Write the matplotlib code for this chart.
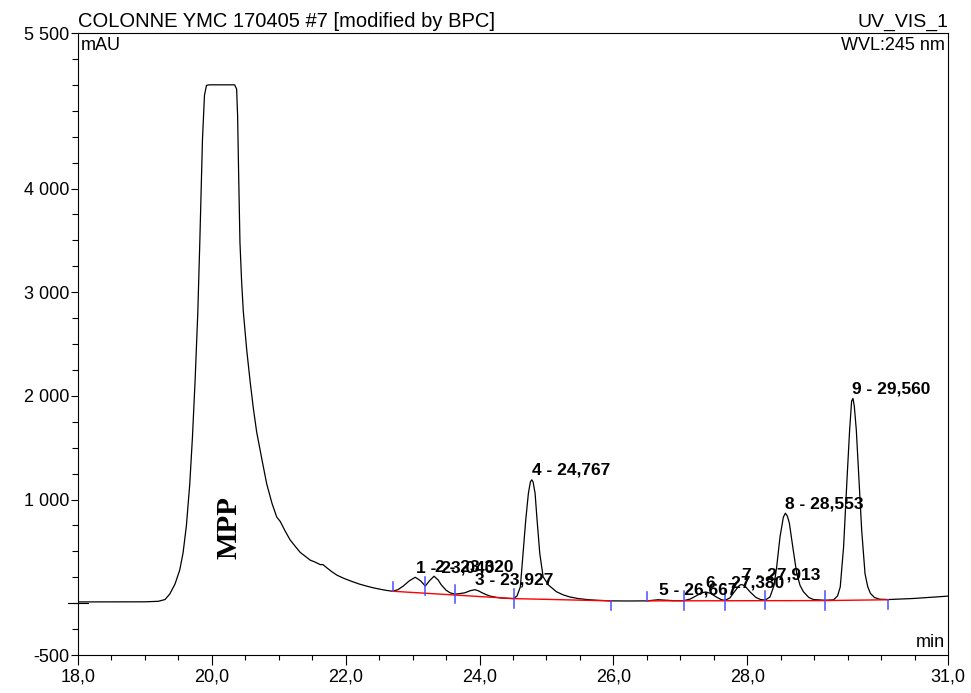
import matplotlib
matplotlib.use("Agg")
import matplotlib.pyplot as plt
from matplotlib.ticker import MultipleLocator

plt.rcParams['font.family'] = ['Liberation Sans', 'DejaVu Sans']

# traced chromatogram (min, mAU)
time_min = [18.00, 18.50, 19.00, 19.20, 19.30, 19.37, 19.45, 19.52, 19.57, 19.62,
            19.67, 19.71, 19.75, 19.79, 19.82, 19.86, 19.89, 19.92, 19.96, 20.34,
            20.37, 20.385, 20.40, 20.42, 20.445, 20.47, 20.52, 20.57, 20.62, 20.67,
            20.75, 20.82, 20.90, 20.97, 21.02, 21.10, 21.17, 21.25, 21.32, 21.40,
            21.47, 21.53, 21.58, 21.62, 21.66, 21.72, 21.80, 21.87, 21.97, 22.07,
            22.20, 22.31, 22.40, 22.51, 22.60, 22.70, 22.78, 22.86, 22.95, 23.04,
            23.12, 23.19, 23.25, 23.32, 23.38, 23.43, 23.50, 23.56, 23.63, 23.70,
            23.78, 23.86, 23.93, 23.98, 24.03, 24.10, 24.16, 24.26, 24.36, 24.45,
            24.51, 24.56, 24.61, 24.65, 24.69, 24.73, 24.76, 24.78, 24.80, 24.83,
            24.86, 24.90, 24.95, 25.03, 25.15, 25.25, 25.35, 25.47, 25.60, 25.75,
            25.97, 26.20, 26.50, 26.60, 26.67, 26.75, 26.90, 27.05, 27.15, 27.25,
            27.32, 27.38, 27.45, 27.55, 27.62, 27.67, 27.74, 27.82, 27.88, 27.91,
            27.96, 28.04, 28.13, 28.20, 28.27, 28.34, 28.40, 28.44, 28.49, 28.54,
            28.57, 28.60, 28.63, 28.68, 28.74, 28.79, 28.84, 28.92, 28.99, 29.16,
            29.29, 29.35, 29.39, 29.44, 29.49, 29.53, 29.56, 29.58, 29.60, 29.63,
            29.67, 29.71, 29.76, 29.80, 29.84, 29.90, 29.98, 30.11, 30.48, 31.00]
signal_mau = [12, 12, 13, 18, 35, 87, 185, 320, 485, 750,
              1150, 1600, 2150, 2800, 3480, 4475, 4900, 4995, 5000, 5000,
              4960, 4700, 4150, 3480, 3100, 2815, 2450, 2150, 1880, 1650,
              1380, 1150, 960, 830, 790, 690, 610, 545, 490, 450,
              415, 400, 385, 372, 372, 340, 300, 270, 240, 215,
              185, 165, 150, 135, 124, 115, 130, 165, 215, 250,
              215, 165, 215, 260, 225, 175, 125, 100, 87, 92,
              100, 120, 130, 120, 103, 82, 68, 55, 48, 45,
              44, 70, 157, 480, 800, 1060, 1170, 1190, 1170, 1060,
              800, 480, 255, 175, 110, 80, 60, 45, 35, 28,
              22, 21, 22, 28, 33, 30, 24, 24, 40, 75,
              100, 108, 95, 55, 32, 28, 50, 120, 170, 180,
              170, 110, 55, 35, 30, 60, 170, 350, 640, 830,
              868, 840, 770, 545, 285, 170, 110, 55, 35, 28,
              32, 70, 157, 545, 1185, 1670, 1950, 1975, 1900, 1670,
              1185, 705, 285, 160, 95, 55, 38, 35, 45, 68]

# integrated peaks
peak_names = ["1 - 23,040", "2 - 23,320", "3 - 23,927", "4 - 24,767", "5 - 26,667",
              "6 - 27,380", "7 - 27,913", "8 - 28,553", "9 - 29,560"]
peak_rt = [23.04, 23.32, 23.927, 24.767, 26.667, 27.38, 27.913, 28.553, 29.56]
peak_height = [250, 260, 130, 1190, 33, 108, 180, 868, 1975]

# peak delimiters
delim_t = [22.70, 23.19, 23.63, 24.51, 25.97, 26.50, 27.05, 27.67, 28.27, 29.16, 30.11]
delim_v = [115, 165, 87, 44, 22, 22, 24, 28, 30, 28, 35]
delim_kind = ['up', 'cross', 'cross', 'cross', 'down',
              'up', 'cross', 'cross', 'cross', 'cross', 'down']

# baselines (red)
base1_t = [22.70, 24.51, 25.97]
base1_v = [115, 44, 22]
base2_t = [26.50, 29.16, 30.11]
base2_v = [22, 25, 33]

xtick_vals = [18, 20, 22, 24, 26, 28, 31]
xtick_labels = ["18,0", "20,0", "22,0", "24,0", "26,0", "28,0", "31,0"]
ytick_vals = [-500, 1000, 2000, 3000, 4000, 5500]
ytick_labels = ["-500", "1 000", "2 000", "3 000", "4 000", "5 500"]

fig = plt.figure(figsize=(9.71, 6.93), dpi=100)
ax = fig.add_axes([78 / 971, 1 - 655 / 693, (948 - 78) / 971, (655 - 33) / 693])

ax.plot(time_min, signal_mau, color='black', lw=0.9, zorder=3)
ax.plot(base1_t, base1_v, color='red', lw=1.0, zorder=4)
ax.plot(base2_t, base2_v, color='red', lw=1.0, zorder=4)

tick_len = 90
for t, v, k in zip(delim_t, delim_v, delim_kind):
    lo = v - tick_len if k in ('cross', 'down') else v
    hi = v + tick_len if k in ('cross', 'up') else v
    ax.plot([t, t], [lo, hi], color='#4b4bff', lw=1.1, zorder=5)

for name, rt, h in zip(peak_names, peak_rt, peak_height):
    ax.annotate(name, (rt, h), xytext=(0.5, 3.5), textcoords='offset points',
                ha='left', va='baseline', fontsize=12.5, fontweight='bold', zorder=6)

ax.text(20.25, 728, "MPP", rotation=90, ha='center', va='center', fontsize=21,
        fontweight='bold', family=['Liberation Serif', 'DejaVu Serif'])

ax.set_xlim(18, 31)
ax.set_ylim(-500, 5500)
ax.set_xticks(xtick_vals)
ax.set_xticklabels(xtick_labels)
ax.xaxis.set_minor_locator(MultipleLocator(0.5))
ax.set_yticks(ytick_vals)
ax.set_yticklabels(ytick_labels)
ax.yaxis.set_minor_locator(MultipleLocator(250))
ax.tick_params(axis='x', which='major', length=7, width=0.8, labelsize=13, pad=3)
ax.tick_params(axis='x', which='minor', length=3.6, width=0.8)
ax.tick_params(axis='y', which='major', length=5, width=0.8, labelsize=13, pad=1)
ax.tick_params(axis='y', which='minor', length=4, width=0.8)
# the zero line tick crosses the axis
ax.plot([-0.011, 0.011], [0, 0], color='black', lw=0.8, clip_on=False,
        transform=ax.get_yaxis_transform())

for s in ax.spines.values():
    s.set_linewidth(0.8)

ax.text(0.003, 0.993, "mAU", transform=ax.transAxes, ha='left', va='top', fontsize=13)
ax.text(0.996, 0.993, "WVL:245 nm", transform=ax.transAxes, ha='right', va='top', fontsize=13)
ax.text(0.996, 0.006, "min", transform=ax.transAxes, ha='right', va='bottom', fontsize=13)
ax.text(0.0, 1.004, "COLONNE YMC 170405 #7 [modified by BPC]", transform=ax.transAxes,
        ha='left', va='bottom', fontsize=14.5)
ax.text(1.0, 1.004, "UV_VIS_1", transform=ax.transAxes, ha='right', va='bottom', fontsize=14)

fig.savefig("out.png", dpi=100)
